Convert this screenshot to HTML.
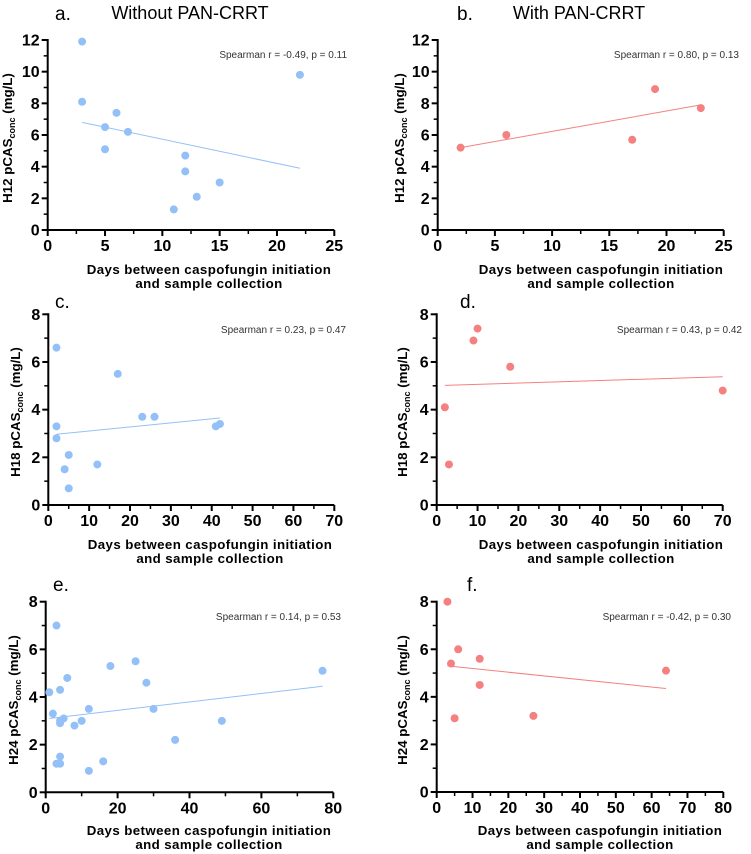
<!DOCTYPE html>
<html><head><meta charset="utf-8"><style>
html,body{margin:0;padding:0;background:#fff;}
svg{display:block;font-family:"Liberation Sans",Arial,sans-serif;}
</style></head>
<body>
<svg id="fig" width="751" height="854" viewBox="0 0 751 854" xmlns="http://www.w3.org/2000/svg"></svg>
<script>
// Panel a: Without PAN-CRRT, H12
const aDays = [3,3,5,5,6,7,11,12,12,13,15,22];
const aConc = [11.9,8.1,6.5,5.1,7.4,6.2,1.3,4.7,3.7,2.1,3.0,9.8];
const aFit = [6.8,3.9];
// Panel b: With PAN-CRRT, H12
const bDays = [2,6,17,19,23];
const bConc = [5.2,6.0,5.7,8.9,7.7];
const bFit = [5.2,7.9];
// Panel c: Without, H18
const cDays = [2,2,2,4,5,5,12,17,23,26,41,42];
const cConc = [6.6,3.3,2.8,1.5,2.1,0.7,1.7,5.5,3.7,3.7,3.3,3.4];
const cFit = [2.97,3.65];
// Panel d: With, H18
const dDays = [2,3,9,10,18,70];
const dConc = [4.1,1.7,6.9,7.4,5.8,4.8];
const dFit = [5.02,5.38];
// Panel e: Without, H24
const eDays = [1,2,3,3,4,4,4,4,4,5,6,8,10,12,12,16,18,25,28,30,36,49,77];
const eConc = [4.2,3.3,7.0,1.2,4.3,3.0,2.9,1.5,1.2,3.1,4.8,2.8,3.0,3.5,0.9,1.3,5.3,5.5,4.6,3.5,2.2,3.0,5.1];
const eFit = [3.1,4.45];
// Panel f: With, H24
const fDays = [3,4,5,6,12,12,27,64];
const fConc = [8.0,5.4,3.1,6.0,5.6,4.5,3.2,5.1];
const fFit = [5.3,4.35];
// Tick labels
const xTicksH12 = [0,5,10,15,20,25];
const yTicksH12 = [0,2,4,6,8,10,12];
const xTicksH18 = [0,10,20,30,40,50,60,70];
const yTicksH18 = [0,2,4,6,8];
const xTicksH24 = [0,20,40,60,80];
const xTicksH24b = [0,10,20,30,40,50,60,70,80];
const yTicksH24 = [0,2,4,6,8];
const stats = ["Spearman r = -0.49, p = 0.11","Spearman r = 0.80, p = 0.13","Spearman r = 0.23, p = 0.47","Spearman r = 0.43, p = 0.42","Spearman r = 0.14, p = 0.53","Spearman r = -0.42, p = 0.30"];

const NS="http://www.w3.org/2000/svg";
const svg=document.getElementById('fig');
function mk(tag,attrs,parent,text){const e=document.createElementNS(NS,tag);for(const k in attrs)e.setAttribute(k,attrs[k]);if(text!==undefined)e.textContent=text;(parent||svg).appendChild(e);return e;}

function panel(o){
  const g=mk('g',{});
  
  
  const sx=v=>o.x0+(v-o.xmin)/(o.xmax-o.xmin)*(o.x1-o.x0);
  const sy=v=>o.y0-(v)/(o.ymax)*(o.y0-o.y1);
  const ax=mk('g',{},g);
  
  
  mk('line',{x1:sx(0),y1:o.y0,x2:sx(0),y2:o.y1-1,stroke:'#000','stroke-width':2},ax);
  mk('line',{x1:sx(0)-1,y1:o.y0,x2:o.x1,y2:o.y0,stroke:'#000','stroke-width':2},ax);
  o.xt.forEach((t,i)=>{
    mk('line',{x1:sx(t),y1:o.y0,x2:sx(t),y2:o.y0+6,stroke:'#000','stroke-width':2},ax);
    const tl=mk('text',{x:sx(t),y:o.y0+21,'text-anchor':'middle','font-size':16,'font-weight':'bold'},ax,String(t));
    
    
    if(i<o.xt.length-1){const m=(t+o.xt[i+1])/2;mk('line',{x1:sx(m),y1:o.y0,x2:sx(m),y2:o.y0+4,stroke:'#000','stroke-width':1.5},ax);}
  });
  o.yt.forEach((t,i)=>{
    mk('line',{x1:sx(0)-6,y1:sy(t),x2:sx(0),y2:sy(t),stroke:'#000','stroke-width':2},ax);
    const tl=mk('text',{x:sx(0)-8,y:sy(t)+5.5,'text-anchor':'end','font-size':16,'font-weight':'bold'},ax,String(t));
    
    
    if(i<o.yt.length-1){const m=(t+o.yt[i+1])/2;mk('line',{x1:sx(0)-4,y1:sy(m),x2:sx(0),y2:sy(m),stroke:'#000','stroke-width':1.5},ax);}
  });
  const xs=o.days;
  const fl=mk('line',{x1:sx(Math.min(...xs)),y1:sy(o.fit[0]),x2:sx(Math.max(...xs)),y2:sy(o.fit[1]),stroke:o.color,'stroke-width':1},g);
  
  
  o.days.forEach((d,i)=>{
    const c=mk('circle',{cx:sx(d),cy:sy(o.conc[i]),r:4,fill:o.color},g);
    
    
  });
  const st=mk('text',{x:o.statX,y:o.statY,'text-anchor':'end','font-size':10,fill:'#333'},g,o.stat);
  
  
  const xl=mk('text',{x:o.xlx,y:o.xly,'text-anchor':'middle','font-size':13.3,'font-weight':'bold','letter-spacing':'0.4'},g);
  
  
  mk('tspan',{x:o.xlx,dy:0},xl,'Days between caspofungin initiation');
  mk('tspan',{x:o.xlx,dy:14},xl,'and sample collection');
  const yl=mk('text',{x:0,y:0,'text-anchor':'middle','font-size':13.3,'font-weight':'bold',transform:`translate(${o.ylx},${o.yly}) rotate(-90)`},g);
  
  
  mk('tspan',{},yl,o.ylab+' pCAS');
  mk('tspan',{'font-size':9,dy:3},yl,'conc');
  mk('tspan',{dy:-3},yl,' (mg/L)');
  const pl=mk('text',{x:o.lx,y:o.ly,'font-size':19},g,o.id+'.');
  
  
}
const BLUE='#94c0f8', RED='#f48080';
panel({id:'a',days:aDays,conc:aConc,fit:aFit,color:BLUE,x0:47.7,x1:334.3,xmin:0,xmax:25,y0:230,y1:40,ymax:12,xt:xTicksH12,yt:yTicksH12,stat:stats[0],statX:347,statY:58,xlx:209,xly:274,ylx:12,yly:138,ylab:'H12',lx:55,ly:20});
panel({id:'b',days:bDays,conc:bConc,fit:bFit,color:RED,x0:437.7,x1:723.7,xmin:0,xmax:25,y0:230,y1:40,ymax:12,xt:xTicksH12,yt:yTicksH12,stat:stats[1],statX:739,statY:58,xlx:601,xly:274,ylx:404,yly:138,ylab:'H12',lx:457,ly:20});
panel({id:'c',days:cDays,conc:cConc,fit:cFit,color:BLUE,x0:48.3,x1:334.3,xmin:0,xmax:70,y0:505,y1:314.3,ymax:8,xt:xTicksH18,yt:yTicksH18,stat:stats[2],statX:346,statY:333,xlx:210,xly:549,ylx:20,yly:412,ylab:'H18',lx:55,ly:308});
panel({id:'d',days:dDays,conc:dConc,fit:dFit,color:RED,x0:436.7,x1:722.7,xmin:0,xmax:70,y0:505,y1:314.3,ymax:8,xt:xTicksH18,yt:yTicksH18,stat:stats[3],statX:742,statY:333,xlx:601,xly:549,ylx:407,yly:412,ylab:'H18',lx:460,ly:308});
panel({id:'e',days:eDays,conc:eConc,fit:eFit,color:BLUE,x0:45.7,x1:333.3,xmin:0,xmax:80,y0:792.3,y1:601.7,ymax:8,xt:xTicksH24,yt:yTicksH24,stat:stats[4],statX:341,statY:620,xlx:209,xly:835,ylx:18,yly:700,ylab:'H24',lx:53,ly:591});
panel({id:'f',days:fDays,conc:fConc,fit:fFit,color:RED,x0:436.7,x1:723.3,xmin:0,xmax:80,y0:792,y1:601.7,ymax:8,xt:xTicksH24b,yt:yTicksH24,stat:stats[5],statX:731,statY:620,xlx:600,xly:835,ylx:407,yly:700,ylab:'H24',lx:467,ly:591});
const t1=mk('text',{x:190,y:19,'text-anchor':'middle','font-size':18},svg,'Without PAN-CRRT');


const t2=mk('text',{x:579,y:19,'text-anchor':'middle','font-size':18},svg,'With PAN-CRRT');


</script>
</body></html>
